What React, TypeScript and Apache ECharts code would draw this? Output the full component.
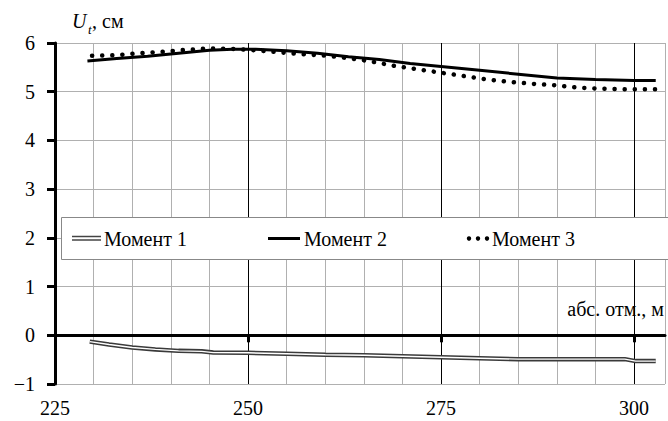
import React, { useEffect, useRef } from "react";
import * as echarts from "echarts";

const FONT = "Liberation Serif, Times New Roman, serif";

// Moment 1 (double line)
const m1X = [229.5, 232, 235, 238, 241, 244, 245.5, 250, 255, 260, 265, 270, 275, 280, 285, 290, 295, 298.8, 300.2, 302.8];
const m1Y = [-0.13, -0.19, -0.25, -0.29, -0.32, -0.33, -0.355, -0.36, -0.38, -0.4, -0.41, -0.43, -0.45, -0.47, -0.49, -0.49, -0.49, -0.49, -0.53, -0.53];

// Moment 2 (solid)
const m2X = [229.2, 233, 237, 241, 245, 248, 251, 255, 259, 263, 267, 271, 275, 280, 285, 290, 295, 300, 302.8];
const m2Y = [5.63, 5.68, 5.73, 5.79, 5.85, 5.87, 5.87, 5.84, 5.79, 5.72, 5.66, 5.58, 5.52, 5.44, 5.36, 5.28, 5.25, 5.23, 5.23];

// Moment 3 (dotted)
const m3X = [229.8, 233, 236, 239, 242, 245, 248, 251, 254, 257, 260, 263, 266, 269, 272, 275, 278, 281, 284, 287, 290, 293, 296, 299, 302.8];
const m3Y = [5.74, 5.75, 5.79, 5.82, 5.86, 5.89, 5.88, 5.85, 5.81, 5.77, 5.74, 5.69, 5.62, 5.53, 5.46, 5.39, 5.32, 5.25, 5.2, 5.16, 5.13, 5.08, 5.06, 5.05, 5.05];

const seriesNames = ["Момент 1", "Момент 2", "Момент 3"];
const xLabelValues = [225, 250, 275, 300];
const xTickValues = [250, 275, 300];

const zip = (xs: number[], ys: number[]) => xs.map((x, i) => [x, ys[i]]);

export default function App() {
  const ref = useRef<HTMLDivElement>(null);
  useEffect(() => {
    if (!ref.current) return;
    const chart = echarts.init(ref.current, null, { renderer: "svg" });
    const gridColors = ["#000", "#b0b0b0", "#b0b0b0", "#b0b0b0", "#b0b0b0"];
    const txt = (text: string, x: number, y: number, extra: any = {}) => ({
      type: "text",
      x,
      y,
      z: 101,
      style: { text, fontFamily: FONT, fontSize: 20, fill: "#000", ...extra },
    });
    chart.setOption({
      animation: false,
      backgroundColor: "#fff",
      textStyle: { fontFamily: FONT },
      grid: { left: 55, right: -3, top: 43, bottom: 37, containLabel: false },
      xAxis: [
        {
          type: "value",
          min: 225,
          max: 304,
          interval: 5,
          position: "bottom",
          axisLine: { show: false, onZero: false },
          axisTick: { show: false },
          axisLabel: {
            margin: 14,
            fontFamily: FONT,
            fontSize: 20,
            color: "#000",
            formatter: (v: number) => (xLabelValues.includes(v) ? String(v) : ""),
          },
          splitLine: { show: true, lineStyle: { color: gridColors, width: 1 } },
        },
        {
          type: "value",
          min: 225,
          max: 304,
          interval: 25,
          position: "top",
          axisLine: { show: true, onZero: true, lineStyle: { color: "#000", width: 3 } },
          axisTick: {
            show: true,
            inside: true,
            length: 7,
            customValues: xTickValues,
            lineStyle: { color: "#000", width: 3 },
          },
          axisLabel: { show: false },
          splitLine: { show: false },
        },
      ],
      yAxis: {
        type: "value",
        min: -1,
        max: 6,
        interval: 1,
        axisLine: { show: true, onZero: false, lineStyle: { color: "#000", width: 3 } },
        axisTick: { show: true, length: 8, lineStyle: { color: "#000", width: 3 } },
        axisLabel: {
          margin: 20,
          fontFamily: FONT,
          fontSize: 20,
          color: "#000",
          formatter: (v: number) => (v < 0 ? "\u2212" + Math.abs(v) : String(v)),
        },
        splitLine: { show: true, lineStyle: { color: "#b0b0b0", width: 1 } },
      },
      series: [
        {
          name: seriesNames[0],
          type: "line",
          xAxisIndex: 0,
          data: zip(m1X, m1Y),
          showSymbol: false,
          lineStyle: { color: "#3a3a3a", width: 4.5 },
          z: 3,
        },
        {
          name: seriesNames[0] + " ",
          type: "line",
          xAxisIndex: 0,
          data: zip(m1X, m1Y),
          showSymbol: false,
          lineStyle: { color: "#fff", width: 1.4 },
          z: 4,
        },
        {
          name: seriesNames[1],
          type: "line",
          xAxisIndex: 0,
          data: zip(m2X, m2Y),
          showSymbol: false,
          lineStyle: { color: "#000", width: 3 },
          z: 5,
        },
        {
          name: seriesNames[2],
          type: "line",
          xAxisIndex: 0,
          data: zip(m3X, m3Y),
          showSymbol: false,
          lineStyle: { color: "#000", width: 4.5, type: [0.1, 10], cap: "round" },
          z: 6,
        },
      ],
      graphic: [
        txt("U", 72, 11, { fontStyle: "italic" }),
        txt("t", 88, 23, { fontStyle: "italic", fontSize: 13 }),
        txt(", см", 92, 11),
        txt("абс. отм., м", 664, 309, { align: "right", verticalAlign: "middle" }),
        {
          type: "rect",
          z: 100,
          shape: { x: 61.5, y: 217.5, width: 640, height: 42 },
          style: { fill: "#fff", stroke: "#888", lineWidth: 1 },
        },
        { type: "line", z: 101, shape: { x1: 72, y1: 236.5, x2: 101, y2: 236.5 }, style: { stroke: "#444", lineWidth: 1.5 } },
        { type: "line", z: 101, shape: { x1: 72, y1: 240, x2: 101, y2: 240 }, style: { stroke: "#444", lineWidth: 1.5 } },
        txt(seriesNames[0], 104, 238.5, { verticalAlign: "middle" }),
        { type: "line", z: 101, shape: { x1: 268, y1: 238.5, x2: 300, y2: 238.5 }, style: { stroke: "#000", lineWidth: 3 } },
        txt(seriesNames[1], 304, 238.5, { verticalAlign: "middle" }),
        { type: "circle", z: 101, shape: { cx: 469, cy: 238.5, r: 2.2 }, style: { fill: "#000" } },
        { type: "circle", z: 101, shape: { cx: 478, cy: 238.5, r: 2.2 }, style: { fill: "#000" } },
        { type: "circle", z: 101, shape: { cx: 487, cy: 238.5, r: 2.2 }, style: { fill: "#000" } },
        txt(seriesNames[2], 492, 238.5, { verticalAlign: "middle" }),
      ],
    });
    return () => chart.dispose();
  }, []);
  return <div ref={ref} style={{ width: 668, height: 421, position: "absolute", left: 0, top: 0 }} />;
}
